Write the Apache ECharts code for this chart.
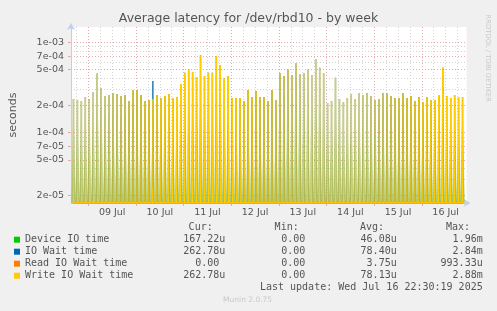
<!DOCTYPE html>
<html><head><meta charset="utf-8">
<script src="https://cdn.jsdelivr.net/npm/echarts@6/dist/echarts.min.js"></script>
<style>html,body{margin:0;padding:0;background:#f0f0f0}#c{width:497px;height:311px}</style>
</head><body><div id="c"></div>
<script>
const chartTitle = 'Average latency for /dev/rbd10 - by week';
const seriesNames = ['Device IO time', 'IO Wait time', 'Read IO Wait time', 'Write IO Wait time'];
const seriesColors = ['#00cc00', '#0066b3', '#ff8000', '#ffcc00'];

// sample grid: hours since 2025-07-08 00:00, first sample Jul 8 16:30, every 2 h
const firstSampleHour = 16.5;
const sampleStepHours = 2;

const deviceIO = [
1.4e-4,1.4e-4,1.35e-4,1.5e-4,1.4e-4,1.7e-4,2.7e-4,1.9e-4,1.5e-4,1.6e-4,
1.6e-4,1.6e-4,1.5e-4,1.6e-4,1.35e-4,1.8e-4,1.8e-4,1.6e-4,1.35e-4,1.4e-4,
1.4e-4,1.6e-4,1.45e-4,1.5e-4,1.6e-4,1.45e-4,1.5e-4,2.1e-4,2.8e-4,3.0e-4,
2.8e-4,2.5e-4,4.3e-4,2.6e-4,2.8e-4,2.8e-4,4.3e-4,3.4e-4,2.4e-4,2.6e-4,
1.45e-4,1.45e-4,1.45e-4,1.35e-4,1.8e-4,1.5e-4,1.75e-4,1.5e-4,1.5e-4,1.35e-4,
1.8e-4,1.4e-4,2.75e-4,2.55e-4,3.0e-4,2.6e-4,3.55e-4,2.7e-4,2.75e-4,3.0e-4,
2.6e-4,3.95e-4,3.15e-4,2.75e-4,1.3e-4,1.35e-4,2.45e-4,1.4e-4,1.3e-4,1.45e-4,
1.6e-4,1.4e-4,1.65e-4,1.6e-4,1.65e-4,1.5e-4,1.4e-4,1.4e-4,1.65e-4,1.65e-4,
1.5e-4,1.45e-4,1.45e-4,1.65e-4,1.45e-4,1.5e-4,1.35e-4,1.5e-4,1.3e-4,1.5e-4,
1.4e-4,1.4e-4,1.6e-4,3.15e-4,1.5e-4,1.45e-4,1.6e-4,1.5e-4,1.5e-4];

const ioWait = [
2.36e-4,2.31e-4,2.25e-4,2.49e-4,2.35e-4,2.83e-4,4.53e-4,3.11e-4,2.56e-4,2.62e-4,
2.74e-4,2.69e-4,2.56e-4,2.62e-4,2.25e-4,2.98e-4,2.98e-4,2.62e-4,2.25e-4,2.31e-4,
3.75e-4,2.62e-4,2.41e-4,2.56e-4,2.69e-4,2.41e-4,2.49e-4,3.48e-4,4.64e-4,4.98e-4,
4.72e-4,4.16e-4,7.24e-4,4.27e-4,4.64e-4,4.64e-4,7.11e-4,5.65e-4,4.02e-4,4.27e-4,
2.43e-4,2.43e-4,2.43e-4,2.25e-4,2.98e-4,2.49e-4,2.90e-4,2.49e-4,2.49e-4,2.25e-4,
2.98e-4,2.31e-4,4.60e-4,4.27e-4,5.06e-4,4.38e-4,5.94e-4,4.49e-4,4.60e-4,4.98e-4,
4.38e-4,6.59e-4,5.24e-4,4.60e-4,2.14e-4,2.25e-4,4.06e-4,2.36e-4,2.19e-4,2.43e-4,
2.69e-4,2.36e-4,2.76e-4,2.62e-4,2.76e-4,2.56e-4,2.31e-4,2.36e-4,2.76e-4,2.76e-4,
2.56e-4,2.43e-4,2.43e-4,2.76e-4,2.43e-4,2.56e-4,2.25e-4,2.49e-4,2.19e-4,2.49e-4,
2.31e-4,2.31e-4,2.62e-4,5.24e-4,2.56e-4,2.43e-4,2.62e-4,2.49e-4,2.49e-4];

const readWait = [
0,0,0,0,0,0,0,0,0,0,
0,0,0,0,0,0,0,0,0,0,
2.4e-5,0,0,0,0,0,0,0,0,0,
0,0,0,0,0,0,0,0,0,0,
0,0,0,0,0,0,0,0,0,0,
0,0,0,0,0,0,0,0,0,0,
0,0,0,0,0,0,0,0,0,0,
0,0,0,0,0,0,0,0,0,0,
0,0,0,0,0,0,0,0,0,0,
0,0,0,0,0,0,0,0,0];

const writeWait = [
2.36e-4,2.31e-4,2.25e-4,2.49e-4,2.35e-4,2.83e-4,4.53e-4,3.11e-4,2.56e-4,2.62e-4,
2.74e-4,2.69e-4,2.56e-4,2.62e-4,2.25e-4,2.98e-4,2.98e-4,2.62e-4,2.25e-4,2.31e-4,
2.36e-4,2.62e-4,2.41e-4,2.56e-4,2.69e-4,2.41e-4,2.49e-4,3.48e-4,4.64e-4,4.98e-4,
4.72e-4,4.16e-4,7.24e-4,4.27e-4,4.64e-4,4.64e-4,7.11e-4,5.65e-4,4.02e-4,4.27e-4,
2.43e-4,2.43e-4,2.43e-4,2.25e-4,2.98e-4,2.49e-4,2.90e-4,2.49e-4,2.49e-4,2.25e-4,
2.98e-4,2.31e-4,4.60e-4,4.27e-4,5.06e-4,4.38e-4,5.94e-4,4.49e-4,4.60e-4,4.98e-4,
4.38e-4,6.59e-4,5.24e-4,4.60e-4,2.14e-4,2.25e-4,4.06e-4,2.36e-4,2.19e-4,2.43e-4,
2.69e-4,2.36e-4,2.76e-4,2.62e-4,2.76e-4,2.56e-4,2.31e-4,2.36e-4,2.76e-4,2.76e-4,
2.56e-4,2.43e-4,2.43e-4,2.76e-4,2.43e-4,2.56e-4,2.25e-4,2.49e-4,2.19e-4,2.49e-4,
2.31e-4,2.31e-4,2.62e-4,5.24e-4,2.56e-4,2.43e-4,2.62e-4,2.49e-4,2.49e-4];

const yMajorTicks = [1e-3, 7e-4, 5e-4, 2e-4, 1e-4, 7e-5, 5e-5, 2e-5];
const yMinorTicks = [9e-4, 8e-4, 6e-4, 4e-4, 3e-4, 9e-5, 8e-5, 6e-5, 4e-5, 3e-5];
const xDayLabels = ['09 Jul', '10 Jul', '11 Jul', '12 Jul', '13 Jul', '14 Jul', '15 Jul', '16 Jul'];
const xDayLabelHours = [36, 60, 84, 108, 132, 156, 180, 204];
const xMidnightHours = [24, 48, 72, 96, 120, 144, 168, 192];
const xSixHourHours = [18, 30, 36, 42, 54, 60, 66, 78, 84, 90, 102, 108, 114, 126, 132, 138, 150, 156, 162, 174, 180, 186, 198, 204, 210];

const legendCur = ['167.22u', '262.78u', '0.00', '262.78u'];
const legendMin = ['0.00', '0.00', '0.00', '0.00'];
const legendAvg = ['46.08u', '78.40u', '3.75u', '78.13u'];
const legendMax = ['1.96m', '2.84m', '993.33u', '2.88m'];
const lastUpdate = 'Last update: Wed Jul 16 22:30:19 2025';

const X_MIN = 15.25, X_MAX = 214.5;
const Y_MIN = 1.655e-5, Y_MAX = 1.49e-3;
const FLOOR = Y_MIN;

function hourOf(i) { return firstSampleHour + i * sampleStepHours; }
function spikeData(vals) {
  const out = [];
  vals.forEach((v, i) => {
    const h = hourOf(i);
    out.push([h, FLOOR], [h, v > 0 ? v : FLOOR], [h, FLOOR]);
  });
  return out;
}
function sawData(vals) {
  const out = [[hourOf(0) - 1, FLOOR]];
  vals.forEach((v, i) => {
    const h = hourOf(i);
    out.push([h, v > 0 ? v : FLOOR], [h + 1, FLOOR]);
  });
  return out;
}
function fmtExp(v) {
  const s = v.toExponential(0);
  return s.replace(/e([+-])(\d)$/, 'e$10$2');
}

const chart = echarts.init(document.getElementById('c'), null, {renderer: 'canvas'});

const mono = 'DejaVu Sans Mono';
const txtColor = '#555555';
const graphics = [];
const colEnds = [225.3, 311.3, 396.7, 482.7];
const headers = ['Cur:', 'Min:', 'Avg:', 'Max:'];
headers.forEach((h, c) => {
  graphics.push({type: 'text', x: colEnds[c] - 12.6, y: 227.7,
    style: {text: h, fill: txtColor, font: '10px ' + mono, align: 'right', verticalAlign: 'middle'}});
});
const cols = [legendCur, legendMin, legendAvg, legendMax];
for (let r = 0; r < 4; r++) {
  cols.forEach((col, c) => {
    const s = col[r];
    const hasUnit = /[a-zA-Z]$/.test(s);
    graphics.push({type: 'text', x: colEnds[c] - (hasUnit ? 0 : 6), y: 239.7 + r * 12,
      style: {text: s, fill: txtColor, font: '10px ' + mono, align: 'right', verticalAlign: 'middle'}});
  });
}
graphics.push({type: 'text', x: 482.7, y: 287.7,
  style: {text: lastUpdate, fill: txtColor, font: '10px ' + mono, align: 'right', verticalAlign: 'middle'}});
graphics.push({type: 'text', x: 247.6, y: 300,
  style: {text: 'Munin 2.0.75', fill: '#c8c8c8', font: '7.5px DejaVu Sans', align: 'center', verticalAlign: 'middle'}});
graphics.push({type: 'text', x: 488, y: 58.3, rotation: -Math.PI / 2,
  style: {text: 'RRDTOOL / TOBI OETIKER', fill: '#c8c8c8', font: '6.8px DejaVu Sans', align: 'center', verticalAlign: 'middle'}});

const axisBlue = '#c4ccf2';
const majorGrid = '#e6aaaa';
const minorGrid = '#d4d4d4';

const option = {
  backgroundColor: '#f0f0f0',
  animation: false,
  title: {text: chartTitle, left: 'center', top: 12, padding: 0,
    textStyle: {fontFamily: 'DejaVu Sans', fontSize: 12.5, fontWeight: 'normal', color: '#555555'}},
  grid: {left: 67, right: 30.5, top: 27, bottom: 108, show: true, backgroundColor: '#ffffff', borderWidth: 0, containLabel: false},
  legend: {orient: 'vertical', left: 14, top: 233.7, padding: 0, itemWidth: 6, itemHeight: 6, itemGap: 0,
    icon: 'rect', selectedMode: false,
    textStyle: {fontFamily: mono, fontSize: 10, color: txtColor, lineHeight: 12},
    data: seriesNames.map((n, i) => ({name: n, itemStyle: {color: seriesColors[i], borderWidth: 0}}))},
  xAxis: [
    {type: 'value', min: X_MIN, max: X_MAX,
      axisLine: {show: true, lineStyle: {color: axisBlue, width: 1}, symbol: ['none', 'arrow'], symbolSize: [6, 7], symbolOffset: [0, 4]},
      axisTick: {show: true, customValues: xMidnightHours, length: 3, lineStyle: {color: majorGrid}},
      splitLine: {show: true, lineStyle: {color: majorGrid, type: [1, 2], width: 1}},
      axisLabel: {customValues: xDayLabelHours, formatter: v => xDayLabels[xDayLabelHours.indexOf(v)],
        color: txtColor, fontFamily: 'DejaVu Sans', fontSize: 9.5, margin: 5}},
    {type: 'value', min: X_MIN, max: X_MAX, position: 'bottom',
      axisLine: {show: false}, axisTick: {show: false, customValues: xSixHourHours},
      axisLabel: {show: false}, splitLine: {show: true, lineStyle: {color: minorGrid, type: [1, 2], width: 1}}}
  ],
  yAxis: [
    {type: 'log', logBase: 10, min: Y_MIN, max: Y_MAX,
      name: 'seconds', nameLocation: 'middle', nameRotate: 90, nameGap: 52,
      nameTextStyle: {color: txtColor, fontFamily: 'DejaVu Sans', fontSize: 11},
      axisLine: {show: true, lineStyle: {color: axisBlue, width: 1}, symbol: ['none', 'arrow'], symbolSize: [6, 7], symbolOffset: [0, 4]},
      axisTick: {show: true, customValues: yMajorTicks, length: 3, lineStyle: {color: majorGrid}},
      splitLine: {show: true, lineStyle: {color: majorGrid, type: [1, 2], width: 1}},
      axisLabel: {customValues: yMajorTicks, formatter: v => fmtExp(v), color: txtColor,
        fontFamily: 'DejaVu Sans', fontSize: 9.5, margin: 7}},
    {type: 'log', logBase: 10, min: Y_MIN, max: Y_MAX, position: 'left',
      axisLine: {show: false}, axisTick: {show: false, customValues: yMinorTicks},
      axisLabel: {show: false}, splitLine: {show: true, lineStyle: {color: minorGrid, type: [1, 2], width: 1}}}
  ],
  series: [
    {name: seriesNames[0], type: 'line', data: sawData(deviceIO), xAxisIndex: 0, yAxisIndex: 0,
      symbol: 'none', silent: true, color: seriesColors[0],
      lineStyle: {width: 0.6, color: 'rgba(130,175,40,0.45)'},
      areaStyle: {origin: 'start', color: new echarts.graphic.LinearGradient(0, 0, 0, 1, [
        {offset: 0, color: 'rgba(195,205,95,0.15)'},
        {offset: 0.5, color: 'rgba(170,185,55,0.6)'},
        {offset: 1, color: 'rgba(160,180,40,0.9)'}])}},
    {name: seriesNames[1], type: 'line', data: spikeData(ioWait), symbol: 'none', silent: true,
      color: seriesColors[1], lineStyle: {width: 1.3, color: seriesColors[1]}},
    {name: seriesNames[2], type: 'line', data: spikeData(readWait), symbol: 'none', silent: true,
      color: seriesColors[2], lineStyle: {width: 1.8, color: seriesColors[2]}},
    {name: seriesNames[3], type: 'line', data: spikeData(writeWait), symbol: 'none', silent: true,
      color: seriesColors[3], lineStyle: {width: 1.4, color: seriesColors[3]}}
  ],
  graphic: graphics
};
chart.setOption(option);
</script></body></html>
